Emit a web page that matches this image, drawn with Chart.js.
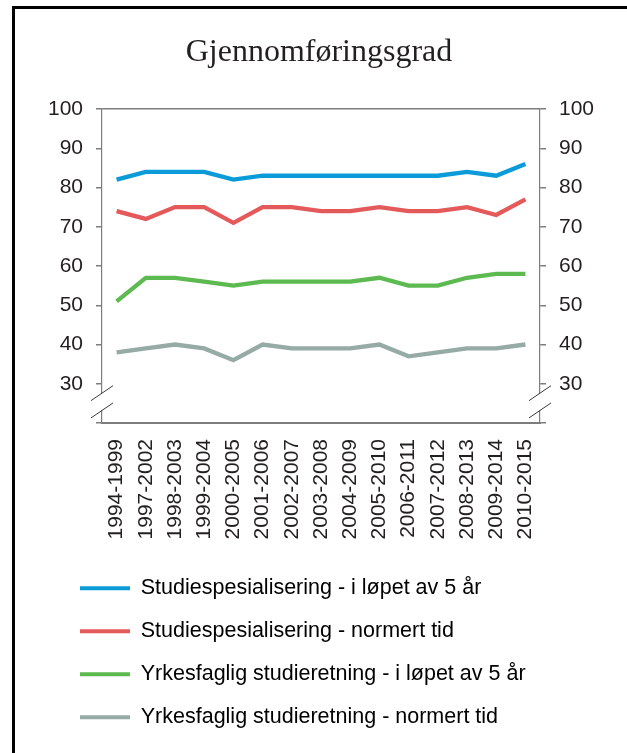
<!DOCTYPE html>
<html>
<head>
<meta charset="utf-8">
<script src="https://cdn.jsdelivr.net/npm/chart.js@4.4.1/dist/chart.umd.min.js"></script>
<style>
    html, body { margin: 0; padding: 0; background: #fff; overflow: hidden; }
    #frame {
        position: absolute; left: 12px; top: 6px;
        width: 700px; height: 800px;
        border: 3px solid #000; box-sizing: border-box;
    }
    #wrap { position: absolute; left: 0; top: 0; width: 627px; height: 753px; }
</style>
</head>
<body>
<div id="frame"></div>
<div id="wrap"><canvas id="chart" width="627" height="753"></canvas></div>
<script>
const periods = ['1994-1999', '1997-2002', '1998-2003', '1999-2004', '2000-2005', '2001-2006', '2002-2007',
    '2003-2008', '2004-2009', '2005-2010', '2006-2011', '2007-2012', '2008-2013', '2009-2014', '2010-2015'];

const studFemAar = [82, 84, 84, 84, 82, 83, 83, 83, 83, 83, 83, 83, 84, 83, 86];
const studNormert = [74, 72, 75, 75, 71, 75, 75, 74, 74, 75, 74, 74, 75, 73, 77];
const yrkFemAar = [51, 57, 57, 56, 55, 56, 56, 56, 56, 57, 55, 55, 57, 58, 58];
const yrkNormert = [38, 39, 40, 39, 36, 40, 39, 39, 39, 40, 37, 38, 39, 39, 40];

const seriesNames = [
    'Studiespesialisering - i løpet av 5 år',
    'Studiespesialisering - normert tid',
    'Yrkesfaglig studieretning - i løpet av 5 år',
    'Yrkesfaglig studieretning - normert tid'
];
const colors = ['#0b9bd8', '#e45a5a', '#5cba50', '#96aaa6'];

const yMin = 20, yMax = 100;

const textColor = '#231f20';
const axisColor = '#7d7d7d';
const sans = "'Liberation Sans', Arial, sans-serif";

// axis break marks (double slashes) on both y axes
const axisBreak = {
    id: 'axisBreak',
    afterLayout(chart) {
        // legend starts a bit right of the y axis box
        chart.legend.left += 14.5;
        chart.legend.right += 14.5;
        chart.titleBlock.left -= 2;
        chart.titleBlock.right -= 2;
    },
    afterDraw(chart) {
        const ctx = chart.ctx;
        const y = chart.scales.y;
        const y1 = y.getPixelForValue(27.6);
        const y2 = y.getPixelForValue(23.2);
        [chart.chartArea.left, chart.chartArea.right].forEach(x => {
            ctx.save();
            ctx.fillStyle = '#fff';
            ctx.fillRect(x - 2, y1, 4, y2 - y1);
            ctx.strokeStyle = '#3a3a3a';
            ctx.lineWidth = 1;
            [y1, y2].forEach(yc => {
                ctx.beginPath();
                ctx.moveTo(x - 11, yc + 7.5);
                ctx.lineTo(x + 11, yc - 7.5);
                ctx.stroke();
            });
            ctx.restore();
        });
    }
};

function yTicks(pos) {
    return {
        position: pos,
        min: yMin,
        max: yMax,
        afterFit(scale) { scale.width = 58; },
        ticks: {
            stepSize: 10,
            padding: 13,
            color: textColor,
            font: { family: sans, size: 21 },
            callback: v => (v === yMin ? '' : v)
        },
        grid: {
            drawOnChartArea: pos === 'left',
            color: c => (c.tick && (c.tick.value === yMax || c.tick.value === yMin)) ? axisColor : 'rgba(0,0,0,0)',
            lineWidth: 1.5,
            tickColor: axisColor,
            tickLength: 6
        },
        border: { color: axisColor, width: 1.2 }
    };
}

const datasets = [studFemAar, studNormert, yrkFemAar, yrkNormert].map((d, i) => ({
    label: seriesNames[i],
    data: d,
    borderColor: colors[i],
    backgroundColor: colors[i],
    borderWidth: 4.3,
    pointRadius: 0,
    tension: 0,
    yAxisID: 'y'
}));

new Chart(document.getElementById('chart'), {
    type: 'line',
    data: { labels: periods, datasets },
    plugins: [axisBreak],
    options: {
        responsive: false,
        animation: false,
        layout: { padding: { left: 44, right: 29, top: 0, bottom: 15 } },
        scales: {
            x: {
                offset: true,
                afterFit(scale) { scale.height = 133; },
                grid: { display: false },
                border: { color: axisColor, width: 2 },
                ticks: {
                    autoSkip: false,
                    minRotation: 90,
                    maxRotation: 90,
                    padding: 8,
                    color: textColor,
                    font: { family: sans, size: 21 }
                }
            },
            y: yTicks('left'),
            y2: yTicks('right')
        },
        plugins: {
            title: {
                display: true,
                text: 'Gjennomføringsgrad',
                color: textColor,
                font: { family: "'Liberation Serif', 'Times New Roman', serif", size: 32, weight: 'normal' },
                padding: { top: 33, bottom: 37.6 }
            },
            legend: {
                position: 'bottom',
                align: 'start',
                labels: {
                    boxWidth: 50,
                    boxHeight: 4,
                    padding: 21.5,
                    color: textColor,
                    font: { family: sans, size: 21.5 },
                    generateLabels: chart => chart.data.datasets.map((ds, i) => ({
                        text: ds.label,
                        fillStyle: ds.borderColor,
                        strokeStyle: ds.borderColor,
                        lineWidth: 0,
                        datasetIndex: i
                    }))
                }
            },
            tooltip: { enabled: false }
        }
    }
});
</script>
</body>
</html>
